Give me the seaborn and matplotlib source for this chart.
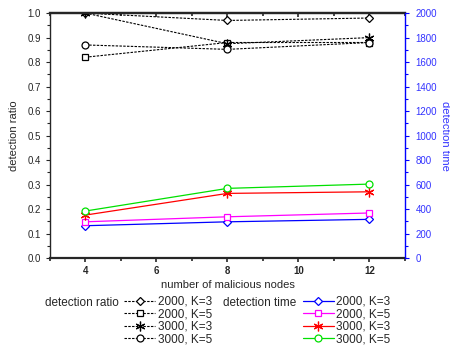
import matplotlib
matplotlib.use("Agg")
import matplotlib.pyplot as plt
from matplotlib.lines import Line2D
from matplotlib.ticker import MultipleLocator
import seaborn as sns
import pandas as pd

nodes = [4, 8, 12]
ratio_labels = ["2000, K=3", "2000, K=5", "3000, K=3", "3000, K=5"]
ratio_2000_k3 = [1.0, 0.97, 0.98]
ratio_2000_k5 = [0.82, 0.88, 0.88]
ratio_3000_k3 = [1.0, 0.875, 0.90]
ratio_3000_k5 = [0.87, 0.852, 0.88]
time_2000_k3 = [264, 296, 316]
time_2000_k5 = [296, 337, 368]
time_3000_k3 = [351, 528, 541]
time_3000_k5 = [384, 569, 604]

sns.set_style("ticks")
plt.rcParams['font.family'] = ['Liberation Sans', 'DejaVu Sans']

fig = plt.figure(figsize=(4.5, 3.45), dpi=100)
ax = fig.add_axes([0.111, 0.252, 0.789, 0.71])
ax2 = ax.twinx()

ratio_series = [ratio_2000_k3, ratio_2000_k5, ratio_3000_k3, ratio_3000_k5]
time_series = [time_2000_k3, time_2000_k5, time_3000_k3, time_3000_k5]
markers = ["D", "s", (6, 2, 0), "o"]
msizes = [4.5, 5, 7, 5]
colors = ["#0000ff", "#ff00ff", "#ff0000", "#00e000"]
dash = (0, (2.2, 1.2))

ratio_handles = []
time_handles = []
for lab, ys, m, ms in zip(ratio_labels, ratio_series, markers, msizes):
    df = pd.DataFrame({"x": nodes, "y": ys})
    sns.lineplot(data=df, x="x", y="y", ax=ax, color="black", linestyle=dash,
                 linewidth=0.8, marker=m, markersize=ms,
                 markerfacecolor="white", markeredgecolor="black",
                 markeredgewidth=0.9, legend=False)
    ratio_handles.append(Line2D([], [], color="black", linestyle=dash, linewidth=0.8,
                                marker=m, markersize=ms,
                                markerfacecolor="white", markeredgecolor="black",
                                markeredgewidth=0.9))
for lab, ys, m, ms, c in zip(ratio_labels, time_series, markers, msizes, colors):
    df = pd.DataFrame({"x": nodes, "y": ys})
    sns.lineplot(data=df, x="x", y="y", ax=ax2, color=c, linestyle="-",
                 linewidth=0.9, marker=m, markersize=ms,
                 markerfacecolor="white", markeredgecolor=c,
                 markeredgewidth=0.9, legend=False)
    time_handles.append(Line2D([], [], color=c, linestyle="-", linewidth=0.9,
                               marker=m, markersize=ms,
                               markerfacecolor="white", markeredgecolor=c,
                               markeredgewidth=0.9))

ax.set_xlim(3, 13)
ax.set_ylim(0, 1.0)
ax2.set_ylim(0, 2000)
ax.set_xticks([4, 6, 8, 10, 12])
ax.xaxis.set_minor_locator(MultipleLocator(1))
ax.yaxis.set_major_locator(MultipleLocator(0.1))
ax.yaxis.set_minor_locator(MultipleLocator(0.05))
ax2.yaxis.set_major_locator(MultipleLocator(200))
ax2.yaxis.set_minor_locator(MultipleLocator(100))

ax.tick_params(axis="x", which="both", direction="out", labelsize=7, width=1.2, pad=2.5)
ax.tick_params(axis="x", which="major", length=3)
ax.tick_params(axis="x", which="minor", length=2)
for t in ax.get_xticklabels():
    t.set_fontweight("bold")

top = ax.secondary_xaxis("top")
top.set_xticks([4, 6, 8, 10, 12])
top.xaxis.set_minor_locator(MultipleLocator(1))
top.tick_params(axis="x", which="both", direction="in", labeltop=False, width=1.2)
top.tick_params(axis="x", which="major", length=3)
top.tick_params(axis="x", which="minor", length=2)
top.spines["top"].set_linewidth(1.6)

ax.tick_params(axis="y", which="major", direction="out", length=3, labelsize=7, width=0.8)
ax.tick_params(axis="y", which="minor", direction="out", length=2, width=0.8)
ax2.tick_params(axis="y", which="major", direction="out", length=3, labelsize=7,
                colors="#0000ff", width=0.8, pad=4.5)
ax2.tick_params(axis="y", which="minor", direction="out", length=2, colors="#0000ff", width=0.8)
for t in ax2.get_yticklabels():
    t.set_color("#3333ff")

for s in ["top", "bottom"]:
    ax.spines[s].set_linewidth(1.6)
ax.spines["left"].set_linewidth(1.0)
ax.spines["right"].set_visible(False)
ax2.spines["top"].set_visible(False)
ax2.spines["bottom"].set_visible(False)
ax2.spines["left"].set_visible(False)
ax2.spines["right"].set_color("#0000ff")
ax2.spines["right"].set_linewidth(1.0)

ax.set_xlabel("number of malicious nodes", fontsize=8, labelpad=3)
ax.set_ylabel("detection ratio", fontsize=8, labelpad=6)
ax2.set_ylabel("detection time", fontsize=8, color="#3333ff", rotation=270, labelpad=9)

leg_kw = dict(frameon=False, fontsize=8.5, handlelength=2.6, handletextpad=0.25,
              labelspacing=0.05, borderpad=0, borderaxespad=0)
leg1 = fig.legend(ratio_handles, ratio_labels, loc="upper left",
                  bbox_to_anchor=(0.276, 0.143), **leg_kw)
leg2 = fig.legend(time_handles, ratio_labels, loc="upper left",
                  bbox_to_anchor=(0.673, 0.143), **leg_kw)
fig.text(0.101, 0.122, "detection ratio", fontsize=8.5, va="center")
fig.text(0.495, 0.122, "detection time", fontsize=8.5, va="center")

fig.savefig("out.png", dpi=100)
